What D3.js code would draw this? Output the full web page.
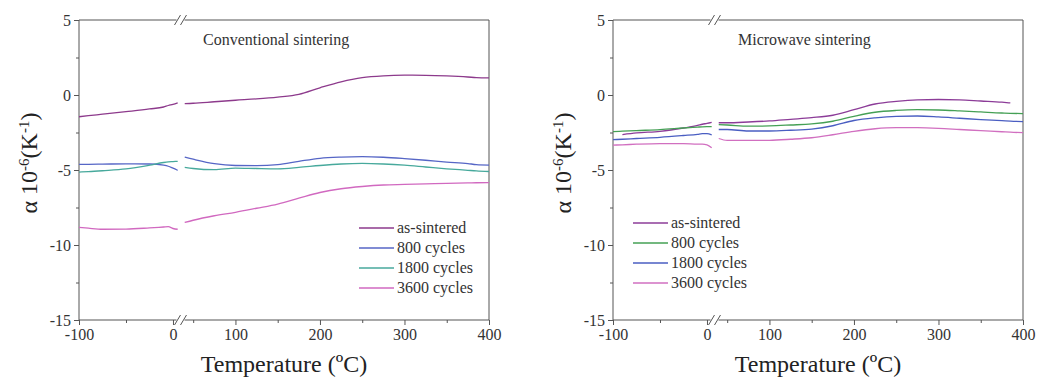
<!DOCTYPE html>
<html>
<head>
<meta charset="utf-8">
<script src="https://cdn.jsdelivr.net/npm/d3@7"></script>
<style>
  body { margin: 0; background: #fff; }
  svg { display: block; }
  svg text { font-family: 'Liberation Serif', 'Times New Roman', serif; }
</style>
</head>
<body>
<div id="chart"></div>
<script>

// temperature grids for the two pieces of the broken x axis
const tLow = [-100, -90, -75, -50, -25, -10, -5, 0, 5]
const tHigh = [40, 50, 75, 100, 125, 150, 175, 200, 225, 250, 275, 300, 325, 350, 375, 385, 400]

const seriesNames = ['as-sintered', '800 cycles', '1800 cycles', '3600 cycles']
const panelTitles = ['Conventional sintering', 'Microwave sintering']

// conventional sintering
const convAsLow = [-1.45, -1.38, -1.28, -1.11, -0.93, -0.8, -0.7, -0.62, -0.52]
const convAsHigh = [-0.57, -0.55, -0.45, -0.35, -0.26, -0.14, 0.04, 0.48, 0.88, 1.16, 1.28, 1.32, 1.31, 1.27, 1.2, 1.16, 1.14]
const conv800Low = [-4.62, -4.62, -4.61, -4.59, -4.6, -4.68, -4.75, -4.88, -5.02]
const conv800High = [-4.14, -4.28, -4.58, -4.7, -4.71, -4.64, -4.42, -4.22, -4.14, -4.11, -4.15, -4.24, -4.35, -4.47, -4.57, -4.64, -4.67]
const conv1800Low = [-5.14, -5.11, -5.05, -4.93, -4.68, -4.5, -4.46, -4.44, -4.42]
const conv1800High = [-4.82, -4.9, -4.98, -4.87, -4.9, -4.92, -4.83, -4.7, -4.6, -4.56, -4.6, -4.68, -4.8, -4.92, -5.02, -5.06, -5.1]
const conv3600Low = [-8.82, -8.88, -8.95, -8.94, -8.86, -8.8, -8.78, -8.9, -8.95]
const conv3600High = [-8.5, -8.35, -8.05, -7.82, -7.55, -7.27, -6.88, -6.5, -6.25, -6.1, -6.0, -5.96, -5.92, -5.89, -5.86, -5.85, -5.84]

// microwave sintering
const mwAsLow = [null, -2.64, -2.53, -2.42, -2.2, -2.03, -1.95, -1.89, -1.82]
const mwAsHigh = [-1.85, -1.85, -1.8, -1.73, -1.62, -1.51, -1.35, -0.98, -0.6, -0.42, -0.32, -0.3, -0.32, -0.4, -0.48, -0.53, null]
const mw800Low = [-2.44, -2.41, -2.37, -2.31, -2.2, -2.14, -2.12, -2.11, -2.11]
const mw800High = [-1.98, -2.0, -2.08, -2.06, -2.0, -1.93, -1.75, -1.42, -1.15, -1.03, -0.98, -1.0, -1.06, -1.13, -1.2, -1.22, -1.24]
const mw1800Low = [-2.98, -2.95, -2.9, -2.82, -2.7, -2.62, -2.58, -2.58, -2.66]
const mw1800High = [-2.3, -2.3, -2.4, -2.4, -2.35, -2.27, -2.05, -1.7, -1.52, -1.42, -1.4, -1.46, -1.55, -1.64, -1.71, -1.74, -1.77]
const mw3600Low = [-3.34, -3.32, -3.28, -3.24, -3.24, -3.28, -3.28, -3.32, -3.52]
const mw3600High = [-2.9, -3.03, -3.03, -3.02, -2.95, -2.85, -2.65, -2.42, -2.25, -2.18, -2.18, -2.22, -2.3, -2.38, -2.45, -2.48, -2.51]

const convColors = ['#8d3a8c', '#5666c6', '#47a99c', '#d169c0']
const mwColors = ['#8c3c98', '#45a055', '#4a5ec2', '#d16fc0']

const yTicks = [5, 0, -5, -10, -15]
const yMinor = [2.5, -2.5, -7.5, -12.5]
const xLowTicks = [-100, 0]
const xLowMinor = [-50]
const xHighTicks = [100, 200, 300, 400]
const xHighMinor = [50, 150, 250, 350]

const panels = [
    {title: panelTitles[0], colors: convColors, legendX: 280, legendY: 208,
     low: [convAsLow, conv800Low, conv1800Low, conv3600Low],
     high: [convAsHigh, conv800High, conv1800High, conv3600High]},
    {title: panelTitles[1], colors: mwColors, legendX: 20, legendY: 203,
     low: [mwAsLow, mw800Low, mw1800Low, mw3600Low],
     high: [mwAsHigh, mw800High, mw1800High, mw3600High]}
]

const width = 1039, height = 387
const axisColor = '#555'

const margin = {left: 79, top: 20}
const innerW = 410, innerH = 300
const breakX = 101.5  // position of the axis break inside the plot

const xLow = d3.scaleLinear().domain([-100, 8]).range([0, breakX])
const xHigh = d3.scaleLinear().domain([35, 400]).range([breakX, innerW])
const yScale = d3.scaleLinear().domain([-15, 5]).range([innerH, 0])

const svg = d3.select('#chart').append('svg')
    .attr('width', width)
    .attr('height', height)

panels.forEach(function(p, pi) {

    const g = svg.append('g')
        .attr('transform', `translate(${margin.left + pi * 534},${margin.top})`)

    // frame, with a gap at the break on top and bottom
    const gap = 4
    const frame = g.append('g').attr('stroke', axisColor).attr('stroke-width', 1).attr('fill', 'none')
    frame.append('path').attr('d', `M${breakX - gap},0H0V${innerH}H${breakX - gap}`)
    frame.append('path').attr('d', `M${breakX + gap},0H${innerW}V${innerH}H${breakX + gap}`)
    ;[0, innerH].forEach(function(yy) {
        ;[-3, 3].forEach(function(dx) {
            frame.append('line')
                .attr('x1', breakX + dx - 3).attr('y1', yy + 5)
                .attr('x2', breakX + dx + 3).attr('y2', yy - 5)
        })
    })

    const fmt = d => String(d)

    // y axis
    const yAxis = g.append('g')
        .call(d3.axisLeft(yScale).tickValues(yTicks).tickSize(5).tickPadding(3).tickFormat(fmt))
    yAxis.append('g')
        .call(d3.axisLeft(yScale).tickValues(yMinor).tickSize(3).tickFormat(''))

    // x axis, two pieces
    const xa = g.append('g').attr('transform', `translate(0,${innerH})`)
    xa.append('g').call(d3.axisBottom(xLow).tickValues(xLowTicks).tickSize(5).tickPadding(4).tickFormat(fmt))
    xa.append('g').call(d3.axisBottom(xLow).tickValues(xLowMinor).tickSize(3).tickFormat(''))
    xa.append('g').call(d3.axisBottom(xHigh).tickValues(xHighTicks).tickSize(5).tickPadding(4).tickFormat(fmt))
    xa.append('g').call(d3.axisBottom(xHigh).tickValues(xHighMinor).tickSize(3).tickFormat(''))

    g.selectAll('.domain').remove()
    g.selectAll('.tick line').attr('stroke', axisColor)
    g.selectAll('.tick text')
        .style('font-size', '16px')
        .attr('fill', '#333')

    // curves
    const line = d3.line()
        .defined(d => d[1] !== null)
        .y(d => d[1])
        .curve(d3.curveMonotoneX)

    p.low.forEach(function(vals, i) {
        const pts = tLow.map((t, k) => [xLow(t), vals[k] === null ? null : yScale(vals[k])])
        g.append('path')
            .datum(pts)
            .attr('fill', 'none')
            .attr('stroke', p.colors[i])
            .attr('stroke-width', 1.3)
            .attr('d', line)
    })

    p.high.forEach(function(vals, i) {
        const pts = tHigh.map((t, k) => [xHigh(t), vals[k] === null ? null : yScale(vals[k])])
        g.append('path')
            .datum(pts)
            .attr('fill', 'none')
            .attr('stroke', p.colors[i])
            .attr('stroke-width', 1.3)
            .attr('d', line)
    })

    // panel title
    g.append('text')
        .attr('x', pi === 0 ? 124 : 125)
        .attr('y', 25)
        .style('font-size', '16px')
        .attr('fill', '#333')
        .text(p.title)

    // legend
    const lg = g.append('g').attr('transform', `translate(${p.legendX},${p.legendY})`)
    seriesNames.forEach(function(name, i) {
        const row = lg.append('g').attr('transform', `translate(0,${i * 20})`)
        row.append('line')
            .attr('x1', 0).attr('x2', 35)
            .attr('stroke', p.colors[i])
            .attr('stroke-width', 1.3)
        row.append('text')
            .attr('x', 38)
            .attr('dy', '0.33em')
            .style('font-size', '16px')
            .attr('fill', '#333')
            .text(name)
    })

    // axis titles
    g.append('text')
        .attr('x', innerW / 2)
        .attr('y', 352)
        .attr('text-anchor', 'middle')
        .style('font-size', '24px')
        .attr('fill', '#222')
        .text('Temperature (ºC)')

    const yt = g.append('text')
        .attr('transform', `translate(${-42},${143}) rotate(-90)`)
        .attr('text-anchor', 'middle')
        .style('font-size', '24px')
        .attr('fill', '#222')
    yt.append('tspan').text('α 10')
    yt.append('tspan').style('font-size', '15px').attr('dy', '-0.55em').text('-6')
    yt.append('tspan').attr('dy', '0.35em').text('(K')
    yt.append('tspan').style('font-size', '15px').attr('dy', '-0.55em').text('-1')
    yt.append('tspan').attr('dy', '0.35em').text(')')
})

</script>
</body>
</html>
